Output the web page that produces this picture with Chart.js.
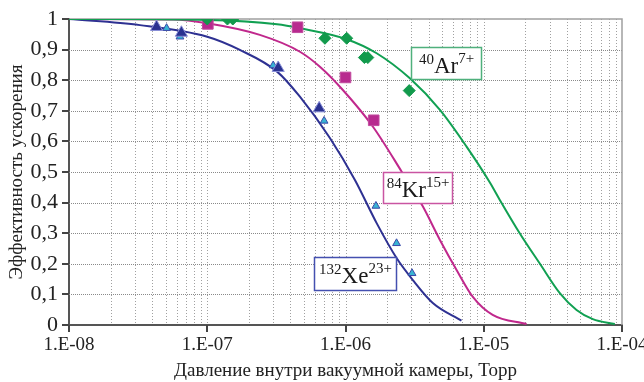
<!DOCTYPE html>
<html>
<head>
<meta charset="utf-8">
<script src="https://cdn.jsdelivr.net/npm/chart.js@4.4.0/dist/chart.umd.min.js"></script>
<style>
  html, body { margin: 0; padding: 0; background: #fff; }
</style>
</head>
<body>
<canvas id="chart" width="644" height="382"></canvas>
<script>
/* ── data ── */
const xTickValues = [1e-8, 1e-7, 1e-6, 1e-5, 1e-4];
const xTickLabels = ['1.E-08', '1.E-07', '1.E-06', '1.E-05', '1.E-04'];
const minorSteps  = [2, 3, 4, 5, 6, 7, 8, 9];

// fitted curves
const xeCurveX = [1e-8, 3.26e-8, 1e-7, 1.72e-7, 3.2e-7, 4.68e-7, 7.71e-7, 1.17e-6, 1.68e-6, 2.34e-6, 3.07e-6, 4.28e-6, 6.9e-6];
const xeCurveY = [1.0, 0.98, 0.942, 0.899, 0.828, 0.746, 0.611, 0.474, 0.333, 0.219, 0.147, 0.072, 0.014];
const krCurveX = [1e-8, 5.65e-8, 1e-7, 2.4e-7, 4.68e-7, 6.53e-7, 9.57e-7, 1.58e-6, 2.55e-6, 3.63e-6, 4.82e-6, 6.36e-6, 8.34e-6, 1.16e-5, 2.04e-5];
const krCurveY = [1.0, 0.998, 0.986, 0.948, 0.893, 0.844, 0.768, 0.648, 0.501, 0.387, 0.278, 0.18, 0.092, 0.033, 0.003];
const arCurveX = [1e-8, 1e-7, 3.2e-7, 4.68e-7, 1.02e-6, 1.68e-6, 2.92e-6, 4.82e-6, 7.51e-6, 1.11e-5, 1.31e-5, 1.82e-5, 2.55e-5, 3.55e-5, 4.69e-5, 6.15e-5, 8.87e-5];
const arCurveY = [1.0, 0.997, 0.983, 0.97, 0.934, 0.888, 0.806, 0.703, 0.583, 0.465, 0.408, 0.30, 0.2, 0.104, 0.049, 0.019, 0.003];

// measured points
const xeDarkX  = [4.3e-8, 6.5e-8, 3.26e-7, 6.45e-7];
const xeDarkY  = [0.974, 0.955, 0.84, 0.708];
const xeLightX = [5.08e-8, 6.35e-8, 3.0e-7, 7.0e-7, 1.66e-6, 2.34e-6, 3.03e-6];
const xeLightY = [0.97, 0.942, 0.848, 0.667, 0.389, 0.267, 0.169];
const krPtsX   = [1.01e-7, 4.5e-7, 1.0e-6, 1.6e-6];
const krPtsY   = [0.984, 0.973, 0.809, 0.669];
const arPtsX   = [1.0e-7, 1.40e-7, 1.53e-7, 7.1e-7, 1.02e-6, 1.37e-6, 1.45e-6, 2.89e-6];
const arPtsY   = [1.0, 1.0, 1.0, 0.937, 0.937, 0.874, 0.874, 0.766];

// ion labels
const ionMass   = ['40', '84', '132'];
const ionSymbol = ['Ar', 'Kr', 'Xe'];
const ionCharge = ['7+', '15+', '23+'];

const BLUE = '#2e3192', MAGENTA = '#c0288c', GREEN = '#11a052';
const SERIF = '"Liberation Serif", "Times New Roman", serif';
const NONE = 'rgba(0,0,0,0)';

const pts = (xs, ys) => xs.map((x, i) => ({ x, y: ys[i] }));
const isDecade = v => Math.abs(Math.log10(v) - Math.round(Math.log10(v))) < 1e-6;

/* ── label boxes (anchored to axis values) ── */
const labelBoxes = [
  { i: 0, x: 2.97e-6, y: 0.908, w: 70, h: 32, color: '#4fb07c' },
  { i: 1, x: 1.86e-6, y: 0.500, w: 69, h: 31, color: '#c955a2' },
  { i: 2, x: 5.91e-7, y: 0.222, w: 82, h: 33, color: '#4450b0' },
];

function drawIon(ctx, cx, cy, i) {
  const big = '23px ' + SERIF, small = '15px ' + SERIF;
  ctx.font = small; const w1 = ctx.measureText(ionMass[i]).width;
  const w3 = ctx.measureText(ionCharge[i]).width;
  ctx.font = big;   const w2 = ctx.measureText(ionSymbol[i]).width;
  let x = cx - (w1 + w2 + w3) / 2;
  const base = cy + 9;
  ctx.fillStyle = '#1a1a1a';
  ctx.textAlign = 'left'; ctx.textBaseline = 'alphabetic';
  ctx.font = small; ctx.fillText(ionMass[i], x, base - 9); x += w1;
  ctx.font = big;   ctx.fillText(ionSymbol[i], x, base);  x += w2;
  ctx.font = small; ctx.fillText(ionCharge[i], x, base - 10);
}

// dotted grid, tick marks and frame, all placed from the chart's own scales
const framePlugin = {
  id: 'frame',
  beforeDatasetsDraw(chart) {
    const { ctx, chartArea: a, scales: { x, y } } = chart;
    const line = (x1, y1, x2, y2) => { ctx.beginPath(); ctx.moveTo(x1, y1); ctx.lineTo(x2, y2); ctx.stroke(); };
    ctx.save();
    ctx.lineWidth = 1;
    ctx.strokeStyle = '#a0a0a0'; ctx.setLineDash([1, 2]);
    x.ticks.forEach(t => {
      const px = Math.round(x.getPixelForValue(t.value)) + 0.5;
      if (px > a.left + 2 && px < a.right - 2) line(px, a.top, px, a.bottom);
    });
    ctx.strokeStyle = '#8a8a8a'; ctx.setLineDash([1, 1]);
    y.ticks.forEach(t => {
      const py = Math.round(y.getPixelForValue(t.value)) + 0.5;
      if (py > a.top + 2 && py < a.bottom - 2) line(a.left, py, a.right, py);
    });
    ctx.setLineDash([]);
    ctx.strokeStyle = '#444'; ctx.lineWidth = 2;
    x.ticks.filter(t => isDecade(t.value)).forEach(t => {
      const px = Math.round(x.getPixelForValue(t.value));
      line(px, a.bottom, px, a.bottom + 7);
    });
    y.ticks.forEach(t => {
      const py = Math.round(y.getPixelForValue(t.value));
      line(a.left - 7, py, a.left, py);
    });
    ctx.strokeStyle = '#a0a0a0'; ctx.lineWidth = 1.5;
    ctx.beginPath();
    ctx.moveTo(a.left, a.top); ctx.lineTo(a.right, a.top); ctx.lineTo(a.right, a.bottom);
    ctx.stroke();
    ctx.restore();
  },
  afterDatasetsDraw(chart) {
    const { ctx, scales: { x, y } } = chart;
    ctx.save();
    labelBoxes.forEach(b => {
      const px = Math.round(x.getPixelForValue(b.x)) + 0.5;
      const py = Math.round(y.getPixelForValue(b.y)) + 0.5;
      ctx.fillStyle = '#fff';
      ctx.fillRect(px, py, b.w, b.h);
      ctx.strokeStyle = b.color; ctx.lineWidth = 1.5;
      ctx.strokeRect(px, py, b.w, b.h);
      drawIon(ctx, px + b.w / 2, py + b.h / 2, b.i);
    });
    ctx.restore();
  }
};

const curve = (data, color, order) => ({
  data, showLine: true, borderColor: color, borderWidth: 2,
  pointRadius: 0, cubicInterpolationMode: 'monotone', order,
});

new Chart(document.getElementById('chart'), {
  type: 'scatter',
  data: {
    datasets: [
      curve(pts(arCurveX, arCurveY), GREEN, 1),
      curve(pts(krCurveX, krCurveY), MAGENTA, 2),
      curve(pts(xeCurveX, xeCurveY), BLUE, 3),
      { data: pts(arPtsX, arPtsY), pointStyle: 'rectRot', pointRadius: 6,
        backgroundColor: '#129a4c', borderColor: '#129a4c', borderWidth: 1, order: 0 },
      { data: pts(krPtsX, krPtsY), pointStyle: 'rect', pointRadius: 7.5,
        backgroundColor: '#b82a8f', borderColor: '#c24b9f', borderWidth: 1, order: 0 },
      { data: pts(xeDarkX, xeDarkY), pointStyle: 'triangle', pointRadius: 7,
        backgroundColor: '#2a3290', borderColor: '#8a90d8', borderWidth: 1, order: 0 },
      { data: pts(xeLightX, xeLightY), pointStyle: 'triangle', pointRadius: 4.5,
        backgroundColor: '#38b4d4', borderColor: '#3a48a8', borderWidth: 1, order: 0 },
    ]
  },
  options: {
    responsive: false,
    animation: false,
    layout: { padding: { left: 0, top: 19, right: 22, bottom: 0 } },
    plugins: { legend: { display: false }, tooltip: { enabled: false } },
    scales: {
      x: {
        type: 'logarithmic',
        min: 1e-8, max: 1e-4,
        afterBuildTicks: s => {
          const t = [];
          xTickValues.forEach((d, k) => {
            t.push({ value: d });
            if (k < xTickValues.length - 1) minorSteps.forEach(m => t.push({ value: d * m }));
          });
          s.ticks = t;
        },
        afterFit: s => { s.height = 57; s.paddingLeft = 0; s.paddingRight = 0; },
        grid: { color: NONE, tickColor: NONE, tickLength: 7 },
        border: { display: true, color: '#555', width: 2 },
        ticks: {
          autoSkip: false, maxRotation: 0, padding: 2, color: '#222',
          font: { family: SERIF, size: 19 },
          callback: v => {
            const k = xTickValues.findIndex(d => Math.abs(d - v) / d < 1e-6);
            return k >= 0 ? xTickLabels[k] : '';
          }
        },
        title: {
          display: true, text: 'Давление внутри вакуумной камеры, Торр',
          color: '#222', font: { family: SERIF, size: 19 }, padding: 0
        }
      },
      y: {
        min: 0, max: 1,
        afterFit: s => { s.width = 69; },
        grid: { color: NONE, tickColor: NONE, tickLength: 7 },
        border: { display: true, color: '#555', width: 2 },
        ticks: {
          stepSize: 0.1, padding: 4, color: '#222',
          font: { family: SERIF, size: 22 },
          callback: v => String(Math.round(v * 10) / 10).replace('.', ',')
        },
        title: {
          display: true, text: 'Эффективность ускорения',
          color: '#222', font: { family: SERIF, size: 19 }, padding: { top: 6, bottom: 0 }
        }
      }
    }
  },
  plugins: [framePlugin]
});
</script>
</body>
</html>
